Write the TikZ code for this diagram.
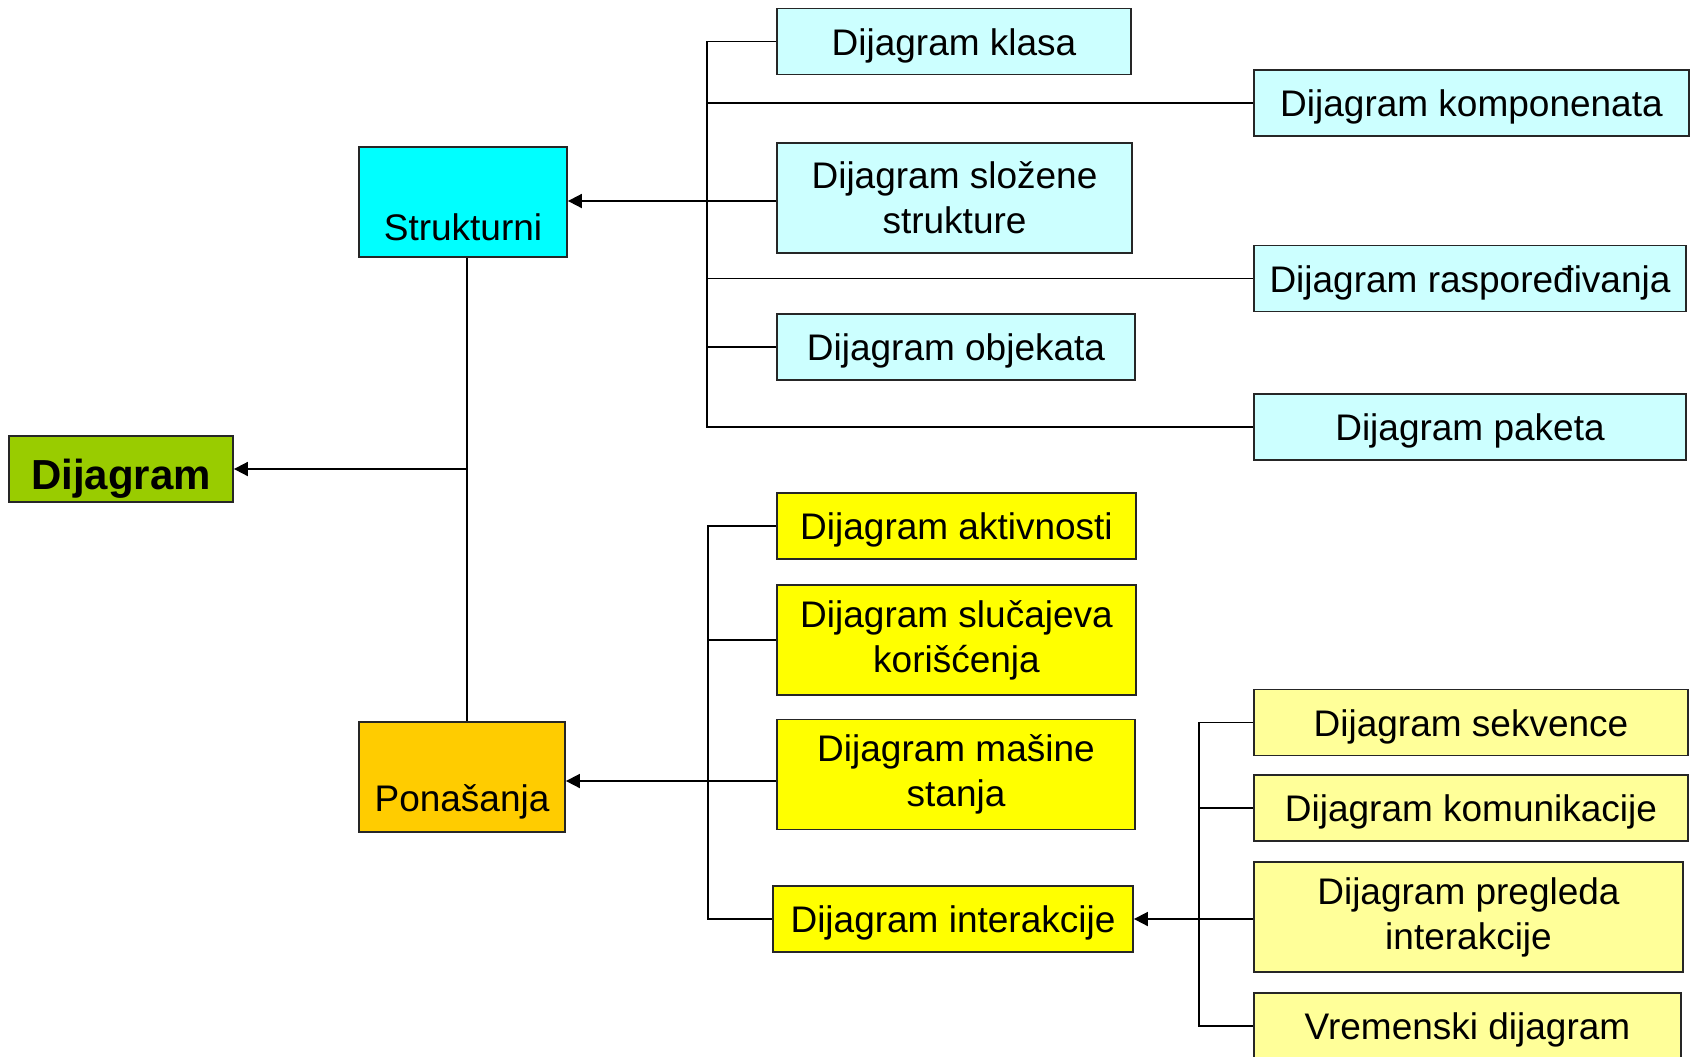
\documentclass[tikz,border=0pt]{standalone}
\usepackage{fontspec}
\setmainfont{Liberation Sans}
\usetikzlibrary{arrows.meta}
\definecolor{strc}{HTML}{00FFFF}
\definecolor{strlight}{HTML}{CCFFFF}
\definecolor{dijc}{HTML}{99CC00}
\definecolor{ponc}{HTML}{FFCC00}
\definecolor{behc}{HTML}{FFFF00}
\definecolor{intc}{HTML}{FFFF99}
\begin{document}
\begin{tikzpicture}[x=0.5pt,y=-0.5pt,
  box/.style={draw=black!85, line width=0.9pt, inner sep=0pt, align=center,
              font=\fontsize{18.5}{22.5}\selectfont},
  one/.style={box, minimum height=33pt, text height=16pt, text depth=2.5pt},
  two/.style={box, minimum height=55pt, execute at begin node={\rule{0pt}{17pt}}},
  link/.style={line width=0.9pt},
  arr/.style={link, -{Triangle[length=7pt,width=7pt]}}]
\useasboundingbox (0,0) rectangle (1692,1056);

% root and the two main groups
\node[box, fill=dijc, minimum width=112pt, minimum height=33pt,
      text height=22pt, text depth=2pt,
      font=\fontsize{21}{25}\selectfont\bfseries] (dij) at (121,469) {Dijagram};
\node[box, fill=strc, minimum width=104pt, minimum height=55pt] (str) at (463,202) {\strut\\Strukturni};
\node[box, fill=ponc, minimum width=103pt, minimum height=55pt] (pon) at (462,777) {\strut\\Ponašanja};

% structural diagrams
\node[one, fill=strlight, minimum width=177pt]   (klasa) at (954,41.5)   {Dijagram klasa};
\node[one, fill=strlight, minimum width=217.5pt] (komp)  at (1471.5,103) {Dijagram komponenata};
\node[two, fill=strlight, minimum width=177.5pt] (slo)   at (954.5,198)  {Dijagram složene\\strukture};
\node[one, fill=strlight, minimum width=216pt]   (ras)   at (1470,278.5) {Dijagram raspoređivanja};
\node[one, fill=strlight, minimum width=179pt]   (obj)   at (956,347)    {Dijagram objekata};
\node[one, fill=strlight, minimum width=216pt]   (pak)   at (1470,427)   {Dijagram paketa};

% behavioural diagrams
\node[one, fill=behc, minimum width=179.5pt] (akt) at (956.5,526) {Dijagram aktivnosti};
\node[two, fill=behc, minimum width=179.5pt] (slu) at (956.5,640) {Dijagram slučajeva\\korišćenja};
\node[two, fill=behc, minimum width=179pt]   (mas) at (956,774.5) {Dijagram mašine\\stanja};
\node[one, fill=behc, minimum width=180pt]   (int) at (953,919)   {Dijagram interakcije};

% interaction diagrams
\node[one, fill=intc, minimum width=217pt]   (sek) at (1471,722.5)  {Dijagram sekvence};
\node[one, fill=intc, minimum width=217pt]   (kom) at (1471,808)    {Dijagram komunikacije};
\node[two, fill=intc, minimum width=214.5pt] (pre) at (1468.5,917)  {Dijagram pregleda\\interakcije};
\node[one, fill=intc, minimum width=213.5pt] (vre) at (1467.5,1026) {Vremenski dijagram};

% trunk positions
\coordinate (dx) at (467,469);
\coordinate (sx) at (707,201);
\coordinate (bx) at (708,781);
\coordinate (ix) at (1199,919);

% root trunk
\draw[link] (str.south -| dx) -- (pon.north -| dx);
\draw[arr] (dx) -- (dij.east);

% structural tree
\draw[link] (klasa.west) -- (klasa.west -| sx) -- (pak.west -| sx) -- (pak.west);
\draw[link] (komp.west) -- (komp.west -| sx);
\draw[link] (ras.west) -- (ras.west -| sx);
\draw[link] (obj.west) -- (obj.west -| sx);
\draw[link] (slo.west |- sx) -- (sx);
\draw[arr] (sx) -- (sx -| str.east);

% behavioural tree
\draw[link] (akt.west) -- (akt.west -| bx) -- (int.west -| bx) -- (int.west);
\draw[link] (slu.west) -- (slu.west -| bx);
\draw[link] (mas.west |- bx) -- (bx);
\draw[arr] (bx) -- (bx -| pon.east);

% interaction tree
\draw[link] (sek.west) -- (sek.west -| ix) -- (vre.west -| ix) -- (vre.west);
\draw[link] (kom.west) -- (kom.west -| ix);
\draw[arr] (pre.west |- ix) -- (int.east);
\end{tikzpicture}
\end{document}
